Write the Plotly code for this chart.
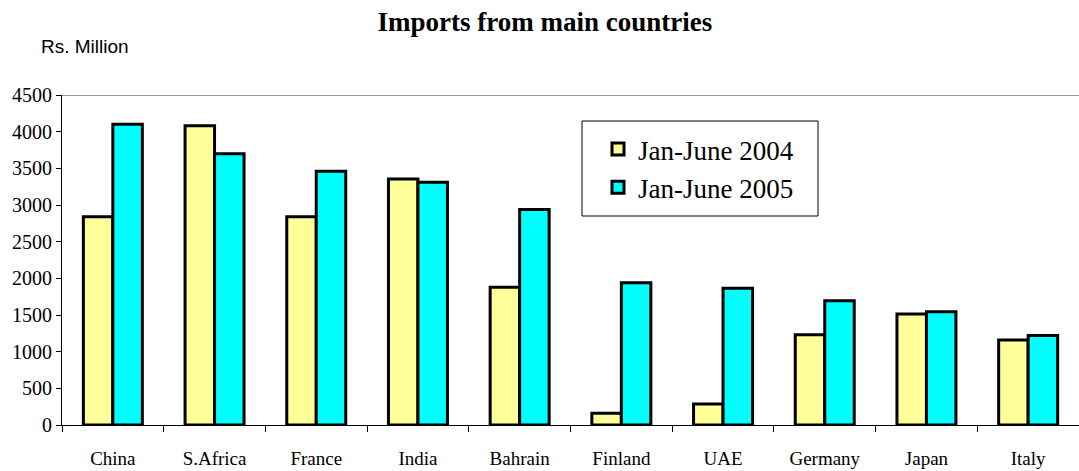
import plotly.graph_objects as go

countries = ["China", "S.Africa", "France", "India", "Bahrain", "Finland", "UAE", "Germany", "Japan", "Italy"]
jan_june_2004 = [2840, 4080, 2840, 3355, 1880, 160, 285, 1230, 1515, 1160]
jan_june_2005 = [4100, 3700, 3460, 3310, 2940, 1940, 1865, 1695, 1545, 1220]
y_ticks = [0, 500, 1000, 1500, 2000, 2500, 3000, 3500, 4000, 4500]

serif = "Liberation Serif, Times New Roman, serif"

fig = go.Figure()
fig.add_trace(go.Bar(name="Jan-June 2004", x=countries, y=jan_june_2004,
                     marker=dict(color="#FFFF99", line=dict(color="black", width=3))))
fig.add_trace(go.Bar(name="Jan-June 2005", x=countries, y=jan_june_2005,
                     marker=dict(color="#00FFFF", line=dict(color="black", width=3))))

L, R, T, B = 62, 0, 95, 46
PW, PH = 1079 - L - R, 471 - T - B

def px_x(p):
    return (p - L) / PW

def px_y(p):
    return (471 - B - p) / PH

fig.update_layout(
    width=1079, height=471,
    margin=dict(l=L, r=R, t=T, b=B, autoexpand=False),
    paper_bgcolor="white", plot_bgcolor="white",
    barmode="group", bargap=0.42, bargroupgap=0,
    title=dict(text="<b>Imports from main countries</b>", x=0.505, xanchor="center",
               y=0.955, yanchor="middle", yref="container",
               font=dict(family=serif, size=27, color="black")),
    legend=dict(x=px_x(598), y=px_y(125), xanchor="left", yanchor="top",
                borderwidth=0, bgcolor="rgba(0,0,0,0)",
                font=dict(family=serif, size=27, color="black"),
                tracegroupgap=4),
    showlegend=True,
)
fig.update_xaxes(showline=True, linecolor="black", linewidth=1,
                 range=[-0.5, 9.5],
                 ticks="outside", tickson="boundaries", ticklen=6, tickcolor="black",
                 tickfont=dict(family=serif, size=19, color="black"),
                 ticklabelstandoff=16, showgrid=False, automargin=False)
fig.update_yaxes(range=[0, 4500], tickvals=y_ticks, showline=True, linecolor="black",
                 linewidth=1, ticks="outside", ticklen=5, tickcolor="black",
                 tickfont=dict(family=serif, size=20, color="black"), showgrid=False,
                 zeroline=False, automargin=False)
fig.add_shape(type="line", xref="paper", yref="y", x0=0, x1=1, y0=4500, y1=4500,
              line=dict(color="#333333", width=1))
fig.add_shape(type="rect", xref="paper", yref="paper",
              x0=px_x(582), x1=px_x(818), y0=px_y(216), y1=px_y(121),
              line=dict(color="black", width=1), fillcolor="white", layer="below")
fig.add_annotation(text="Rs. Million", xref="paper", yref="paper", x=px_x(39), y=px_y(46),
                   xanchor="left", yanchor="middle", showarrow=False,
                   font=dict(family="Liberation Sans, Arial, sans-serif", size=19, color="black"))

fig.write_html("out.html", config={"displayModeBar": False},
               post_script="document.body.style.margin='0';document.body.style.overflow='hidden';")
